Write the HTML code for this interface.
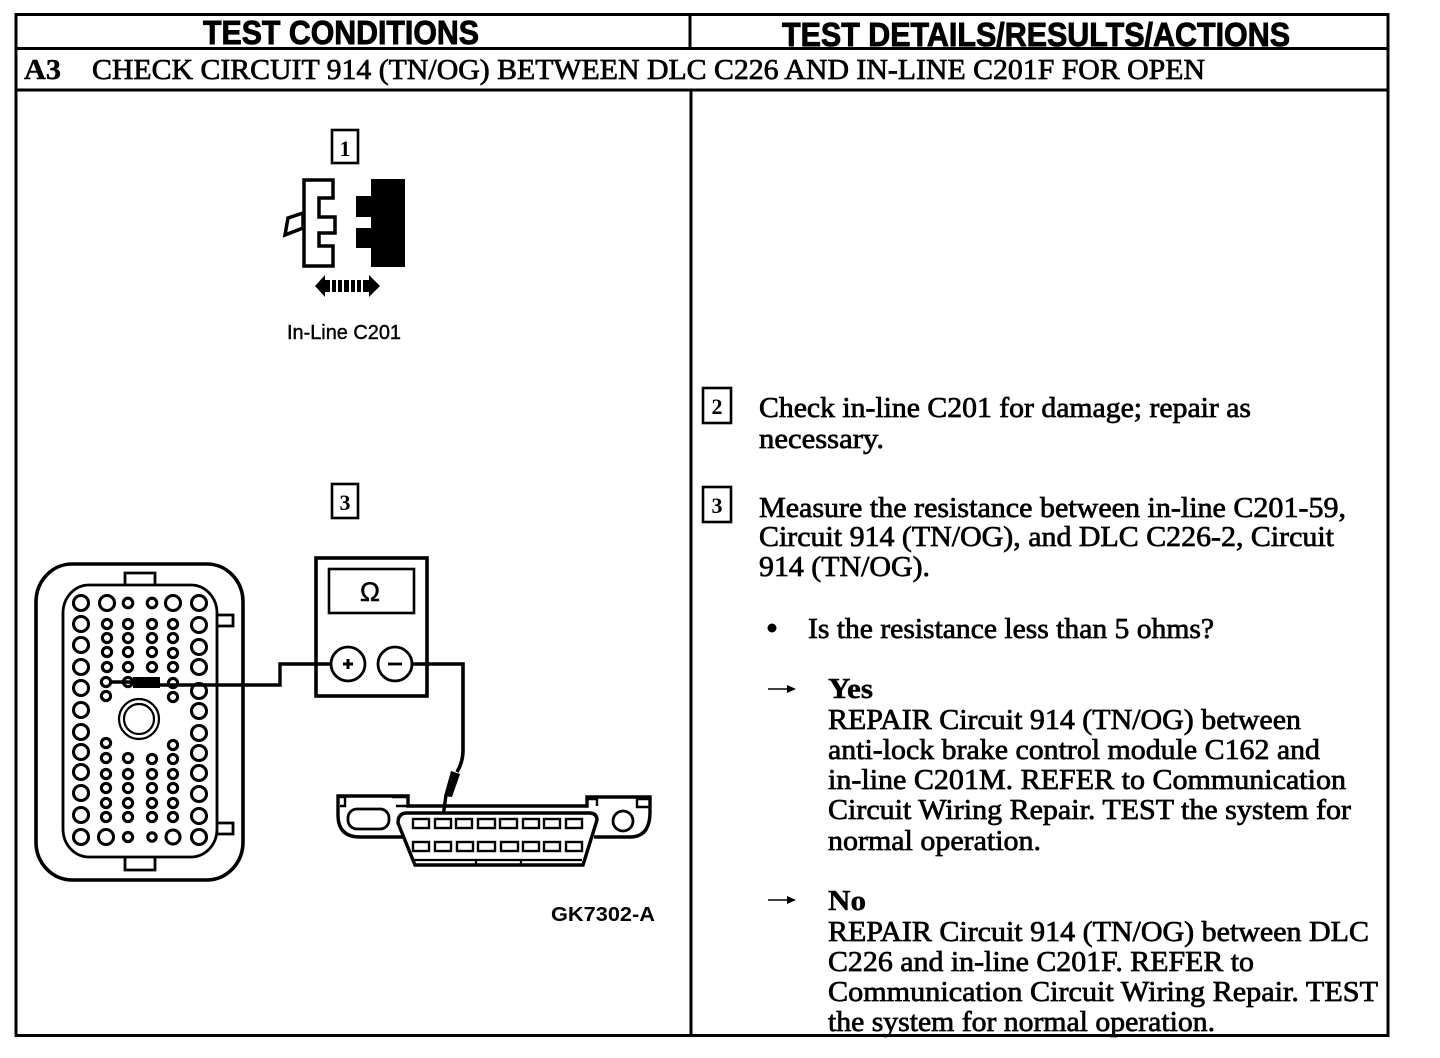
<!DOCTYPE html>
<html><head><meta charset="utf-8"><style>
html,body{margin:0;padding:0;background:#fff}
svg{display:block}
.t{font-family:"Liberation Serif",serif;font-size:28px;fill:#000;stroke:#000;stroke-width:.7}
.b{font-family:"Liberation Serif",serif;font-size:28px;font-weight:bold;fill:#000;stroke:#000;stroke-width:.4}
.h{font-family:"Liberation Sans",sans-serif;font-size:33px;font-weight:bold;fill:#000;stroke:#000;stroke-width:.9}
.n{font-family:"Liberation Serif",serif;font-size:22px;font-weight:bold;fill:#000}
</style></head><body>
<svg width="1440" height="1058" viewBox="0 0 1440 1058" xmlns="http://www.w3.org/2000/svg">
<g fill="none" stroke="#000" stroke-width="3">
<rect x="16" y="14.5" width="1372" height="1021"/>
<path d="M16 48.5H1388M16 90H1388"/>
<path d="M690 15V49M691 90V1036"/>
</g>
<text class="h" x="203" y="44" textLength="276" lengthAdjust="spacingAndGlyphs">TEST CONDITIONS</text>
<text class="h" x="782" y="46" textLength="508" lengthAdjust="spacingAndGlyphs">TEST DETAILS/RESULTS/ACTIONS</text>
<text class="b" x="24" y="79" textLength="37" lengthAdjust="spacingAndGlyphs">A3</text>
<text class="t" x="92" y="79" textLength="1113" lengthAdjust="spacingAndGlyphs">CHECK CIRCUIT 914 (TN/OG) BETWEEN DLC C226 AND IN-LINE C201F FOR OPEN</text>

<!-- step boxes -->
<g fill="#fff" stroke="#000" stroke-width="2.6">
<rect x="332" y="130" width="26" height="33"/>
<rect x="332" y="484" width="26" height="34"/>
<rect x="703" y="388" width="28" height="35"/>
<rect x="703" y="487" width="28" height="35"/>
</g>
<text class="n" x="345" y="156" text-anchor="middle">1</text>
<text class="n" x="345" y="510" text-anchor="middle">3</text>
<text class="n" x="717" y="414" text-anchor="middle">2</text>
<text class="n" x="717" y="513" text-anchor="middle">3</text>

<!-- connector C201 -->
<g stroke="#000" stroke-width="3.5" fill="#fff" stroke-linejoin="miter">
<path d="M303 213L288 218L285 235L303 228Z"/>
<path d="M304 180H333V198H319V217H335V233H319V246H333V266H304Z"/>
</g>
<path d="M371 179H405V267H371V248H356V228H371V217H356V196H371Z" fill="#000"/>
<path d="M315 286L325 275V297Z M380 286L369 275V297Z" fill="#000"/>
<path d="M325 280h5v12h-5zM332 280h4v12h-4zM338 280h4v12h-4zM344 280h5v12h-5zM351 280h4v12h-4zM357 280h4v12h-4zM363 280h6v12h-6z" fill="#000"/>
<text x="287" y="339" font-family="Liberation Sans,sans-serif" font-size="20" fill="#000" stroke="#000" stroke-width=".4" textLength="114" lengthAdjust="spacingAndGlyphs">In-Line C201</text>

<!-- big connector -->
<g fill="none" stroke="#000" stroke-width="3.6">
<rect x="36" y="564" width="207" height="316" rx="36" ry="38"/>
<rect x="63" y="585" width="154" height="272" rx="26" ry="28" stroke-width="2.8"/>
<path d="M125 585V573H155V585M125 857V870H155V857M217 615H233V626H217M217 823H233V834H217" stroke-width="2.8"/>
<circle cx="139" cy="719" r="20" stroke-width="2.2"/>
<circle cx="139" cy="719" r="15" stroke-width="2.2"/>
</g>
<g fill="none" stroke="#000" stroke-width="3.1">
<g>
<circle cx="81" cy="603" r="7.5"/><circle cx="81" cy="624" r="7.5"/><circle cx="81" cy="645" r="7.5"/><circle cx="81" cy="667" r="7.5"/><circle cx="81" cy="688" r="7.5"/><circle cx="81" cy="710" r="7.5"/><circle cx="81" cy="732" r="7.5"/><circle cx="81" cy="752" r="7.5"/><circle cx="81" cy="772" r="7.5"/><circle cx="81" cy="793" r="7.5"/><circle cx="81" cy="815" r="7.5"/><circle cx="81" cy="837" r="7.5"/>
<circle cx="199" cy="603" r="7.5"/><circle cx="199" cy="625" r="7.5"/><circle cx="199" cy="647" r="7.5"/><circle cx="199" cy="667" r="7.5"/><circle cx="199" cy="691" r="7.5"/><circle cx="199" cy="711" r="7.5"/><circle cx="199" cy="733" r="7.5"/><circle cx="199" cy="753" r="7.5"/><circle cx="199" cy="773" r="7.5"/><circle cx="199" cy="794" r="7.5"/><circle cx="199" cy="816" r="7.5"/><circle cx="199" cy="837" r="7.5"/>
<circle cx="107" cy="603" r="7.5"/><circle cx="106" cy="837" r="7.5"/><circle cx="173" cy="603" r="7.5"/><circle cx="173" cy="837" r="7"/>
</g>
<g>
<circle cx="107" cy="624" r="4.6"/><circle cx="107" cy="638" r="4.6"/><circle cx="107" cy="652" r="4.6"/><circle cx="107" cy="667" r="4.6"/><circle cx="106" cy="682" r="4.6"/><circle cx="106" cy="696" r="4.6"/><circle cx="106" cy="743" r="4.6"/><circle cx="106" cy="758" r="4.6"/><circle cx="106" cy="774" r="4.6"/><circle cx="106" cy="788" r="4.6"/><circle cx="106" cy="803" r="4.6"/><circle cx="106" cy="817" r="4.6"/>
<circle cx="128" cy="603" r="4.8"/><circle cx="128" cy="624" r="4.6"/><circle cx="128" cy="638" r="4.6"/><circle cx="128" cy="652" r="4.6"/><circle cx="128" cy="667" r="4.6"/><circle cx="128" cy="682" r="4.6"/><circle cx="128" cy="758" r="4.6"/><circle cx="128" cy="774" r="4.6"/><circle cx="128" cy="788" r="4.6"/><circle cx="128" cy="803" r="4.6"/><circle cx="128" cy="817" r="4.6"/><circle cx="128" cy="837" r="4.6"/>
<circle cx="152" cy="603" r="4.8"/><circle cx="152" cy="624" r="4.6"/><circle cx="152" cy="638" r="4.6"/><circle cx="152" cy="652" r="4.6"/><circle cx="152" cy="667" r="4.6"/><circle cx="152" cy="759" r="4.6"/><circle cx="152" cy="774" r="4.6"/><circle cx="152" cy="788" r="4.6"/><circle cx="152" cy="803" r="4.6"/><circle cx="152" cy="817" r="4.6"/><circle cx="152" cy="837" r="4.2"/>
<circle cx="173" cy="624" r="4.6"/><circle cx="173" cy="638" r="4.6"/><circle cx="173" cy="653" r="4.6"/><circle cx="173" cy="667" r="4.6"/><circle cx="173" cy="683" r="4.6"/><circle cx="173" cy="697" r="4.6"/><circle cx="173" cy="745" r="4.6"/><circle cx="173" cy="759" r="4.6"/><circle cx="173" cy="774" r="4.6"/><circle cx="173" cy="788" r="4.6"/><circle cx="173" cy="803" r="4.6"/><circle cx="173" cy="817" r="4.6"/>
</g>
</g>
<rect x="133" y="677" width="27" height="11" fill="#000"/>
<path d="M110 682H133M160 685H280V664H331" fill="none" stroke="#000" stroke-width="3.4"/>

<!-- meter -->
<g fill="none" stroke="#000" stroke-width="3.6">
<rect x="316" y="558" width="111" height="138"/>
<rect x="329" y="569" width="85" height="44" stroke-width="2.6"/>
</g>
<circle cx="348" cy="664" r="17" fill="#fff" stroke="#000" stroke-width="2.8"/>
<circle cx="395" cy="664" r="17" fill="#fff" stroke="#000" stroke-width="2.8"/>
<path d="M343 664h10M348 659v10" stroke="#000" stroke-width="3"/>
<path d="M388 664h14" stroke="#000" stroke-width="2.8"/>
<text x="370" y="601" text-anchor="middle" font-family="Liberation Sans,sans-serif" font-size="27" fill="#000" stroke="#000" stroke-width=".5">Ω</text>
<path d="M412 664H463V750Q463 762 457 772" fill="none" stroke="#000" stroke-width="3.6"/>
<path d="M451 771L460 774L452 797L444 796Z" fill="#000"/>
<path d="M446 795L443 817" stroke="#000" stroke-width="3.4"/>

<!-- DLC -->
<g fill="none" stroke="#000" stroke-width="3.4">
<path d="M403 837H360Q338 837 338 815V796H408V806H587V797H650V812Q650 837 630 837H594"/>
<path d="M407 813H589Q597 813 597 820L583 865H415L398 823Q398 813 407 813Z" fill="#fff"/>
<rect x="348" y="809" width="41" height="20" rx="9" stroke-width="2.8"/>
<circle cx="623" cy="821" r="10" stroke-width="2.8"/>
<path d="M340 797H345V806H340M392 797H408V806H396M587 806V799H597V806M637 799H650V807H637Z" stroke-width="2.4"/>
<path d="M414 860H582M476 859V865M521 859V865" stroke-width="2.2"/>
</g>
<g fill="#fff" stroke="#000" stroke-width="2.4">
<rect x="413" y="819" width="16" height="9"/><rect x="435" y="819" width="16" height="9"/><rect x="456" y="819" width="16" height="9"/><rect x="478" y="819" width="17" height="9"/><rect x="500" y="819" width="17" height="9"/><rect x="523" y="819" width="16" height="9"/><rect x="544" y="819" width="16" height="9"/><rect x="566" y="819" width="16" height="9"/>
<rect x="413" y="842" width="16" height="9"/><rect x="435" y="842" width="16" height="9"/><rect x="457" y="842" width="16" height="9"/><rect x="478" y="842" width="17" height="9"/><rect x="501" y="842" width="17" height="9"/><rect x="523" y="842" width="16" height="9"/><rect x="544" y="842" width="16" height="9"/><rect x="566" y="842" width="16" height="9"/>
</g>
<text x="551" y="921" font-family="Liberation Sans,sans-serif" font-size="20" font-weight="bold" fill="#000" textLength="104" lengthAdjust="spacingAndGlyphs">GK7302-A</text>

<!-- right column text -->
<text class="t" x="759" y="417" textLength="492" lengthAdjust="spacingAndGlyphs">Check in-line C201 for damage; repair as</text>
<text class="t" x="759" y="448" textLength="125" lengthAdjust="spacingAndGlyphs">necessary.</text>
<text class="t" x="759" y="517" textLength="587" lengthAdjust="spacingAndGlyphs">Measure the resistance between in-line C201-59,</text>
<text class="t" x="759" y="546" textLength="575" lengthAdjust="spacingAndGlyphs">Circuit 914 (TN/OG), and DLC C226-2, Circuit</text>
<text class="t" x="759" y="576" textLength="171" lengthAdjust="spacingAndGlyphs">914 (TN/OG).</text>
<circle cx="772" cy="628" r="4.5" fill="#000"/>
<text class="t" x="808" y="638" textLength="406" lengthAdjust="spacingAndGlyphs">Is the resistance less than 5 ohms?</text>

<path d="M768 689H788" stroke="#000" stroke-width="1.5"/><path d="M787 685L796 689L787 693Z" fill="#000"/>
<text class="b" x="828" y="698" textLength="45" lengthAdjust="spacingAndGlyphs">Yes</text>
<text class="t" x="828" y="729" textLength="473" lengthAdjust="spacingAndGlyphs">REPAIR Circuit 914 (TN/OG) between</text>
<text class="t" x="828" y="759" textLength="492" lengthAdjust="spacingAndGlyphs">anti-lock brake control module C162 and</text>
<text class="t" x="828" y="789" textLength="518" lengthAdjust="spacingAndGlyphs">in-line C201M. REFER to Communication</text>
<text class="t" x="828" y="819" textLength="523" lengthAdjust="spacingAndGlyphs">Circuit Wiring Repair. TEST the system for</text>
<text class="t" x="828" y="850" textLength="213" lengthAdjust="spacingAndGlyphs">normal operation.</text>

<path d="M768 900H788" stroke="#000" stroke-width="1.5"/><path d="M787 896L796 900L787 904Z" fill="#000"/>
<text class="b" x="828" y="910" textLength="38" lengthAdjust="spacingAndGlyphs">No</text>
<text class="t" x="828" y="941" textLength="541" lengthAdjust="spacingAndGlyphs">REPAIR Circuit 914 (TN/OG) between DLC</text>
<text class="t" x="828" y="971" textLength="426" lengthAdjust="spacingAndGlyphs">C226 and in-line C201F. REFER to</text>
<text class="t" x="828" y="1001" textLength="550" lengthAdjust="spacingAndGlyphs">Communication Circuit Wiring Repair. TEST</text>
<text class="t" x="828" y="1031" textLength="387" lengthAdjust="spacingAndGlyphs">the system for normal operation.</text>
</svg>
</body></html>
